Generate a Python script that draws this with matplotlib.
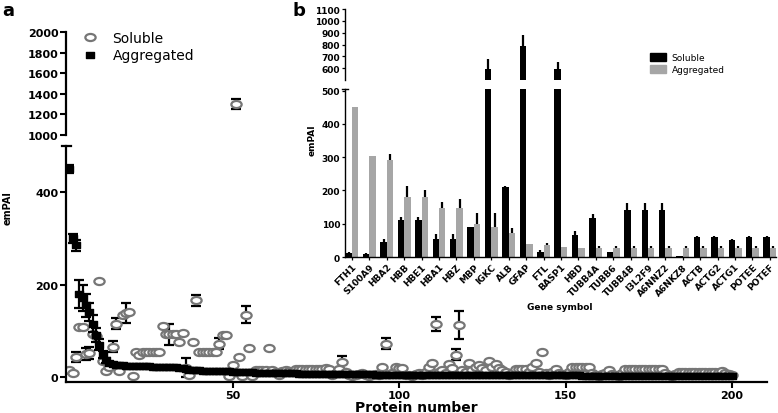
import numpy as np
import matplotlib
matplotlib.use('Agg')
import matplotlib.pyplot as plt
from matplotlib.path import Path
from matplotlib.transforms import Affine2D
from matplotlib.lines import Line2D
from matplotlib.patches import Patch

plt.rcParams['font.family'] = ['DejaVu Sans']

# ---------------- panel a : emPAI per protein ----------------
agg = [450, 300, 285, 180, 170, 155, 140, 115, 90, 70,
       48, 36, 30, 27, 26, 25, 25, 24, 24, 24,
       24, 23, 23, 23, 23, 22, 22, 22, 22, 22,
       21, 21, 21, 20, 19, 18, 16, 15, 14, 14,
       13, 13, 13, 12, 12, 12, 12, 12, 12, 11,
       11, 11, 10, 10, 10, 10, 9, 9, 9, 9,
       9, 9, 8, 8, 8, 8, 8, 8, 8, 7,
       7, 7, 7, 7, 7, 7, 7, 6, 6, 6,
       6, 6, 6, 6, 6, 6, 6, 6, 6, 6,
       6, 6, 5, 5, 5, 5, 5, 5, 5, 5,
       5, 5, 5, 5, 5, 5, 5, 5, 5, 5,
       5, 5, 5, 5, 5, 5, 5, 5, 4, 4,
       4, 4, 4, 4, 4, 4, 4, 4, 4, 4,
       4, 4, 4, 4, 4, 4, 4, 4, 4, 4,
       4, 4, 4, 4, 4, 4, 4, 4, 4, 4,
       4, 4, 4, 4, 3, 3, 3, 3, 3, 3,
       3, 3, 3, 3, 3, 3, 3, 3, 3, 3,
       3, 3, 3, 3, 3, 3, 3, 3, 3, 3,
       3, 3, 3, 3, 3, 3, 3, 3, 3, 3,
       3, 3, 3, 3, 3, 3, 3, 2, 2, 2]
agg_err = [8, 10, 12, 30, 28, 25, 20, 18, 15, 12, 8, 6]

sol = [15, 8, 43, 108, 108, 50, 52, 93, 88, 208,
       35, 12, 22, 65, 115, 12, 135, 138, 140, 2,
       55, 48, 55, 55, 55, 55, 55, 55, 110, 92,
       92, 92, 92, 75, 95, 20, 5, 75, 166, 55,
       55, 55, 55, 55, 55, 72, 90, 90, 3, 25,
       1300, 43, 3, 135, 62, 2, 16, 15, 15, 16,
       63, 14, 10, 5, 12, 15, 13, 10, 17, 18,
       18, 17, 18, 17, 18, 17, 18, 20, 17, 5,
       8, 18, 32, 10, 5, 3, 4, 6, 8, 5,
       3, 4, 6, 5, 21, 72, 6, 8, 21, 19,
       20, 5, 4, 3, 6, 8, 5, 10, 22, 30,
       115, 10, 15, 8, 29, 20, 48, 112, 15, 10,
       30, 15, 22, 26, 20, 15, 34, 22, 29, 20,
       15, 10, 5, 8, 17, 17, 17, 17, 10, 22,
       30, 10, 53, 8, 5, 10, 17, 8, 6, 5,
       10, 22, 22, 22, 22, 22, 22, 8, 5, 3,
       6, 8, 16, 6, 5, 3, 8, 18, 18, 17,
       18, 18, 17, 18, 18, 17, 18, 17, 18, 8,
       5, 3, 6, 10, 10, 10, 10, 10, 10, 10,
       10, 10, 10, 10, 10, 10, 12, 8, 6, 5]
sol_err_n = [3, 6, 7, 14, 15, 18, 31, 36, 39, 46, 51, 54, 83, 96, 111, 117, 118]
sol_err_v = [10, 13, 13, 12, 12, 22, 22, 20, 12, 12, 50, 18, 14, 12, 15, 12, 30]

# ---------------- panel b : top genes ----------------
genes = ['FTH1', 'S100A9', 'HBA2', 'HBB', 'HBE1', 'HBA1', 'HBZ', 'MBP', 'IGKC',
         'ALB', 'GFAP', 'FTL', 'BASP1', 'HBD', 'TUBB4A', 'TUBB6', 'TUBB4B',
         'I3L2F9', 'A6NNZ2', 'A6NKZ8', 'ACTB', 'ACTG2', 'ACTG1', 'POTEE', 'POTEF']
b_sol = [12, 10, 45, 111, 111, 54, 54, 90, 593, 210, 788, 15, 593,
         66, 117, 15, 141, 141, 141, 2, 60, 60, 51, 60, 60]
b_sol_err = [4, 3, 10, 10, 8, 14, 14, 0, 85, 4, 93, 6, 59,
             12, 12, 0, 21, 21, 21, 0, 2, 2, 2, 2, 2]
b_agg = [450, 305, 292, 180, 180, 147, 147, 100, 90, 72, 39, 36, 30,
         27, 27, 27, 27, 27, 27, 27, 27, 27, 27, 27, 27]
b_agg_err = [0, 0, 17, 33, 22, 18, 27, 33, 42, 15, 0, 6, 0,
             0, 5, 5, 5, 5, 5, 5, 5, 5, 5, 5, 5]

W, H = 778, 414
def box(l, t, r, b):
    return [l / W, 1 - b / H, (r - l) / W, (b - t) / H]

fig = plt.figure(figsize=(W / 100, H / 100), dpi=100)

# stretched markers (the figure is wider than tall)
ell = Path.unit_circle().transformed(Affine2D().scale(1.45, 1.0))
rect = Path.unit_rectangle().transformed(Affine2D().translate(-0.5, -0.5).scale(1.3, 1.0))

protein = np.arange(1, len(agg) + 1)
sol_arr = np.array(sol)
sol_err_n = np.array(sol_err_n)

ax_lo = fig.add_axes(box(66, 147, 767, 383))
ax_hi = fig.add_axes(box(66, 33, 767, 136))
gray = '#767676'
for ax in (ax_lo, ax_hi):
    ax.errorbar(sol_err_n, sol_arr[sol_err_n - 1], yerr=sol_err_v, fmt='none',
                ecolor='k', elinewidth=1.6, capsize=3.3, capthick=1.6, zorder=2)
    ax.plot(protein, sol, ls='none', marker=ell, ms=7.4, mfc='white',
            mec=gray, mew=1.6, zorder=2.5)
    ax.errorbar(protein[:len(agg_err)], agg[:len(agg_err)], yerr=agg_err, fmt='none',
                ecolor='k', elinewidth=1.6, capsize=3.3, capthick=1.6, zorder=3)
    ax.plot(protein, agg, ls='none', marker=rect, ms=6, color='k', zorder=3.5)
    ax.set_xlim(0, 210.5)
    for s in ('top', 'right'):
        ax.spines[s].set_visible(False)
    ax.spines['left'].set_linewidth(1.6)
    ax.spines['bottom'].set_linewidth(1.6)
    ax.tick_params(width=1.5, length=4, pad=1.5)
    ax.set_facecolor('none')

ax_lo.set_ylim(-11, 500)
ax_lo.set_yticks([0, 200, 400], ['0', '200', '400'], fontweight='bold', fontsize=8)
ax_lo.set_xticks([50, 100, 150, 200], ['50', '100', '150', '200'], fontweight='bold', fontsize=8)
ax_lo.tick_params(axis='x', pad=1.5)

ax_hi.set_ylim(1000, 2000)
yt = [1000, 1200, 1400, 1600, 1800, 2000]
ax_hi.set_yticks(yt, [str(v) for v in yt], fontweight='bold', fontsize=8)
ax_hi.set_xticks([])
ax_hi.spines['bottom'].set_visible(False)

fig.add_artist(Line2D([62 / W, 71 / W], [1 - 147 / H] * 2, color='k', lw=1.6))

h_sol = Line2D([], [], ls='none', marker=ell, ms=7.4, mfc='white', mec=gray, mew=1.6)
h_agg = Line2D([], [], ls='none', marker=rect, ms=6, color='k')
ax_hi.legend([h_sol, h_agg], ['Soluble', 'Aggregated'], loc='upper left',
             bbox_to_anchor=(82 / W, 1 - 32 / H), bbox_transform=fig.transFigure,
             frameon=False, fontsize=10, handlelength=1.2, handletextpad=1.0,
             labelspacing=0.25, borderpad=0, borderaxespad=0)

fig.text(8 / W, 1 - 208 / H, 'emPAI', rotation=90, fontsize=7, fontweight='bold',
         ha='center', va='center')
fig.text(416 / W, 1 - 412.5 / H, 'Protein number', fontsize=10, fontweight='bold',
         ha='center', va='baseline')
fig.text(2 / W, 1 - 2 / H, 'a', fontsize=13, fontweight='bold', ha='left', va='top')

# ---------------- inset b ----------------
xg = np.arange(len(genes))
w = 0.37
zeros = np.zeros(len(genes))
axb_lo = fig.add_axes(box(345, 90, 776, 258))
axb_hi = fig.add_axes(box(345, 10, 776, 81))
ekw = dict(ecolor='k', elinewidth=1.6, capsize=0)
for ax in (axb_lo, axb_hi):
    ax.bar(xg - w / 2, b_sol, w, color='k', yerr=[zeros, b_sol_err], error_kw=ekw)
    ax.bar(xg + w / 2, b_agg, w, color='#a6a6a6', yerr=[zeros, b_agg_err], error_kw=ekw)
    ax.set_xlim(-0.4, 24.35)
    for s in ('top', 'right'):
        ax.spines[s].set_visible(False)
    ax.spines['left'].set_linewidth(1.0)
    ax.spines['bottom'].set_linewidth(1.0)
    ax.tick_params(width=0.9, length=2.5, pad=1)
    ax.set_facecolor('none')

axb_lo.set_ylim(0, 505)
yb = [0, 100, 200, 300, 400, 500]
axb_lo.set_yticks(yb, [str(v) for v in yb], fontweight='bold', fontsize=6.5)
axb_lo.set_xticks(xg, genes, rotation=45, ha='right', rotation_mode='anchor',
                  fontweight='bold', fontsize=6.5)
axb_hi.set_ylim(500, 1100)
yb2 = [600, 700, 800, 900, 1000, 1100]
axb_hi.set_yticks(yb2, [str(v) for v in yb2], fontweight='bold', fontsize=6.5)
axb_hi.set_xticks([])
axb_hi.spines['bottom'].set_visible(False)
fig.add_artist(Line2D([342 / W, 348 / W], [1 - 90 / H] * 2, color='k', lw=1.0))

axb_hi.legend([Patch(color='k'), Patch(color='#a6a6a6')], ['Soluble', 'Aggregated'],
              loc='upper left', bbox_to_anchor=(650 / W, 1 - 54 / H),
              bbox_transform=fig.transFigure, frameon=False, fontsize=6.5,
              handlelength=1.8, handleheight=0.9, labelspacing=0.35,
              handletextpad=0.6, borderpad=0, borderaxespad=0)

fig.text(312 / W, 1 - 140 / H, 'emPAI', rotation=90, fontsize=6.5, fontweight='bold',
         ha='center', va='center')
fig.text(560 / W, 1 - 308 / H, 'Gene symbol', fontsize=6.5, fontweight='bold',
         ha='center', va='center')
fig.text(292 / W, 1 - 2 / H, 'b', fontsize=13, fontweight='bold', ha='left', va='top')

fig.savefig('out.png', dpi=100)
